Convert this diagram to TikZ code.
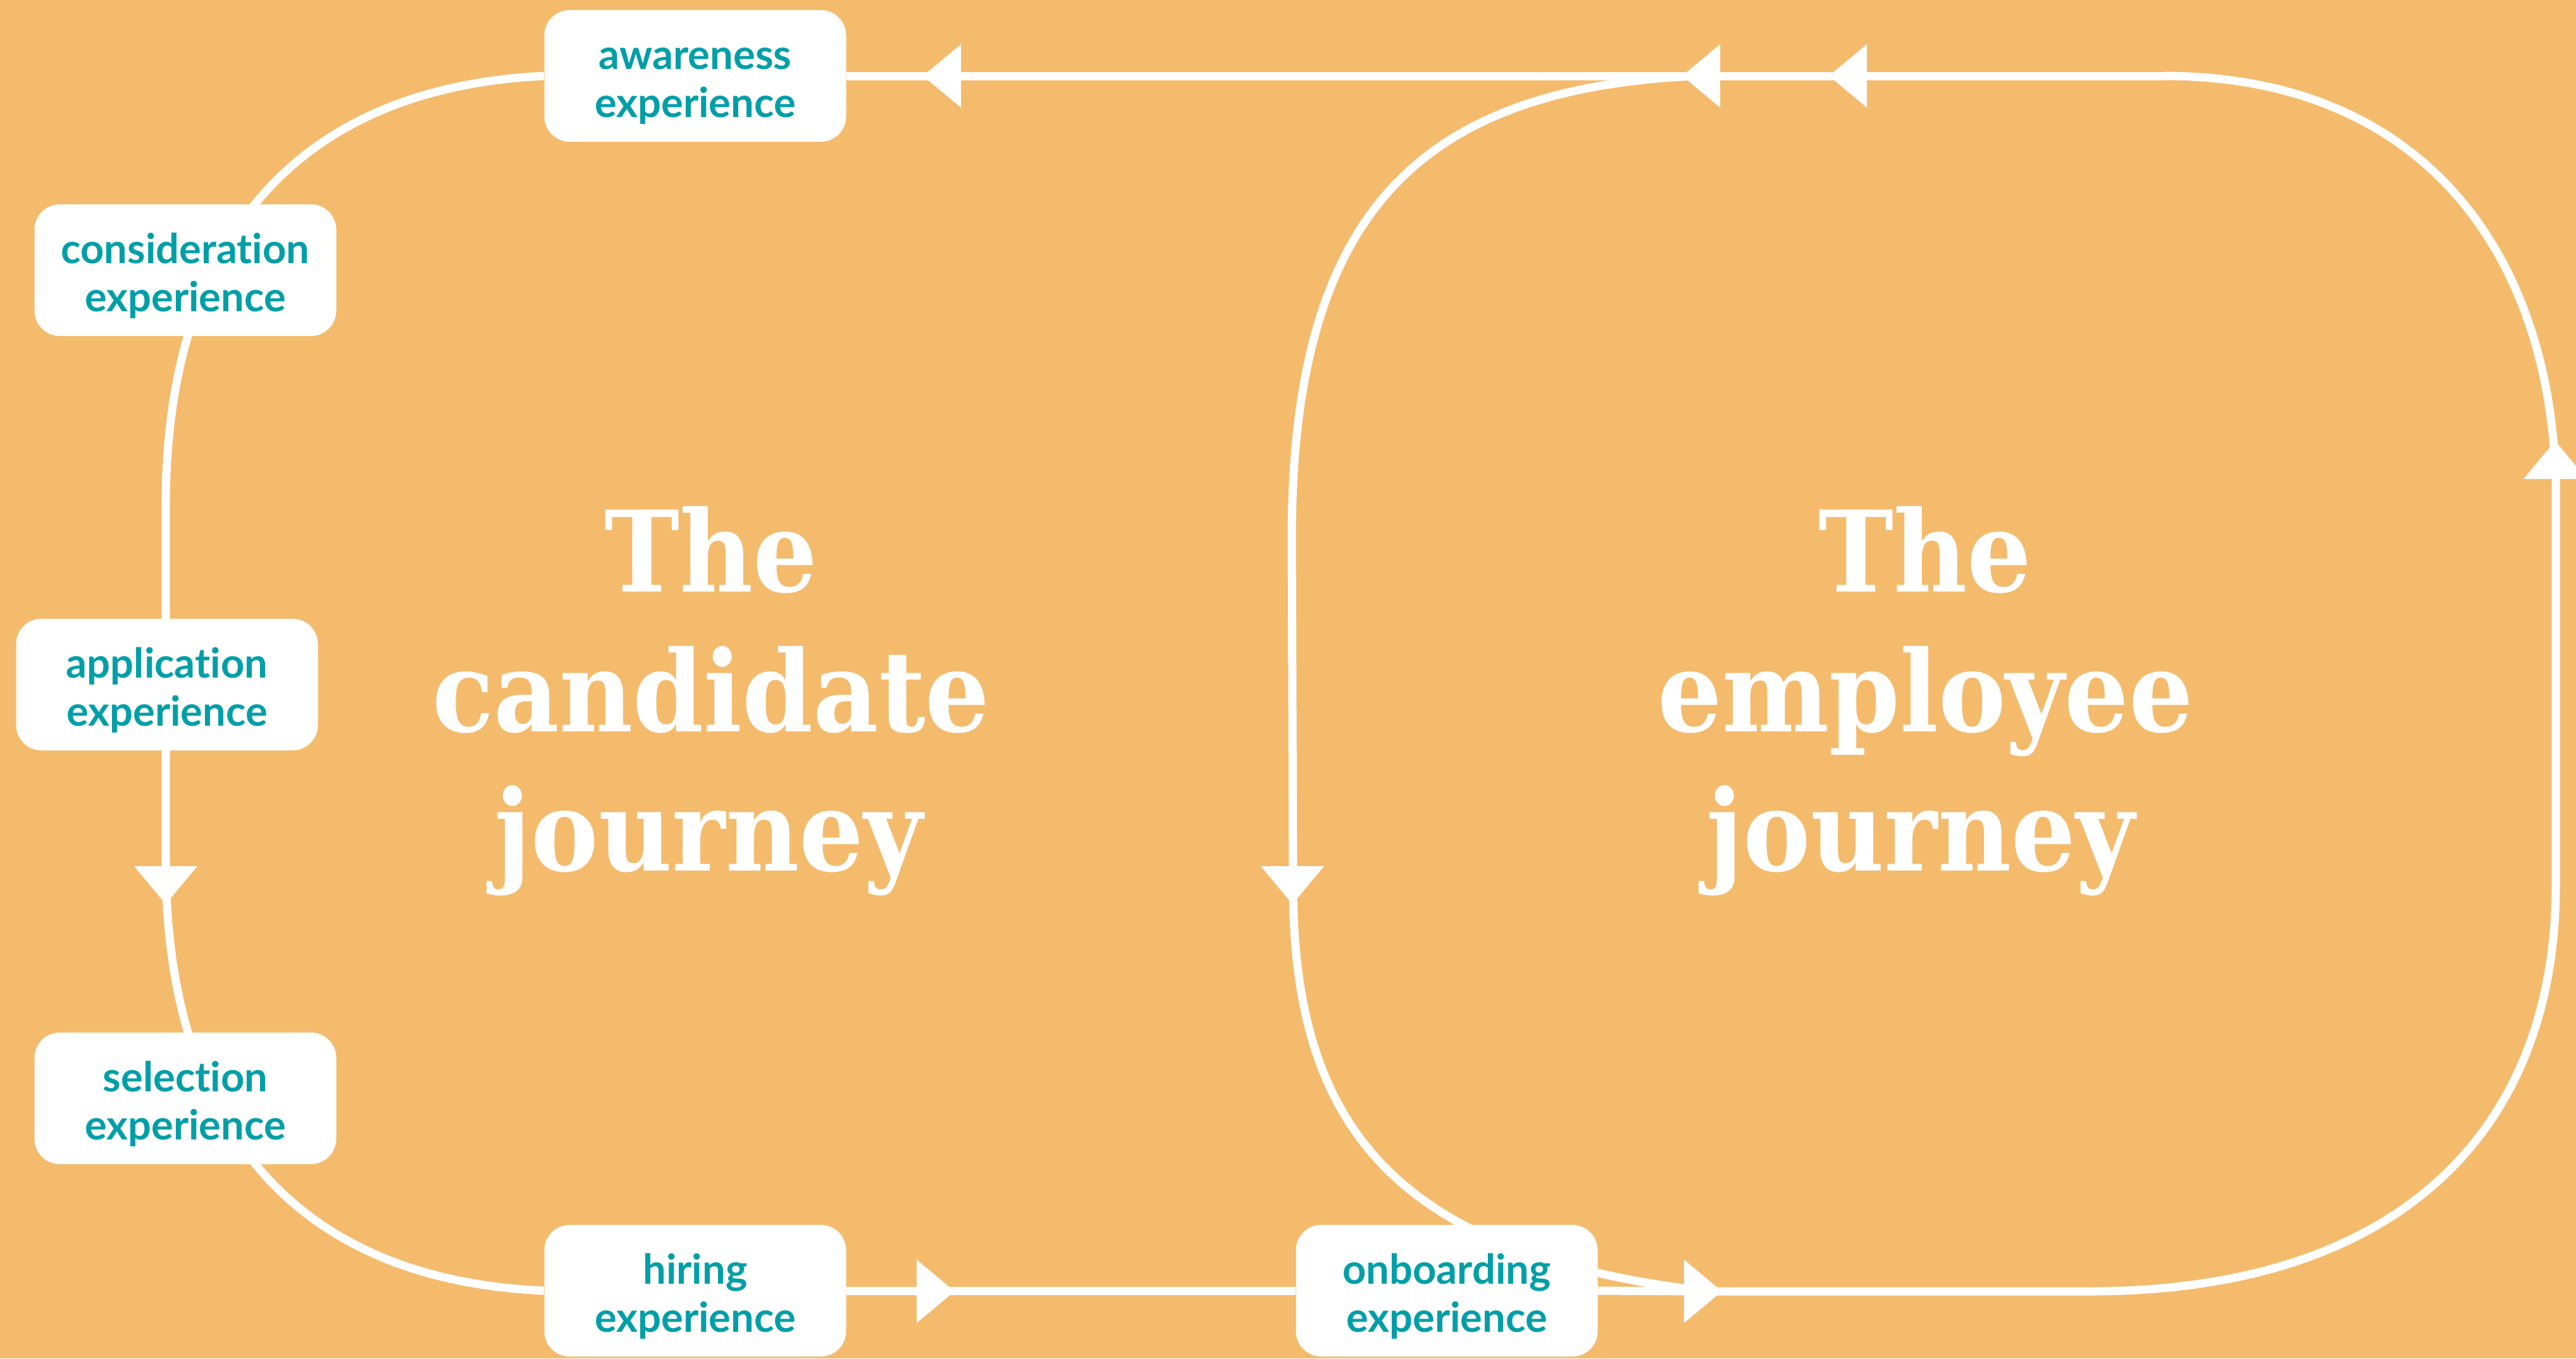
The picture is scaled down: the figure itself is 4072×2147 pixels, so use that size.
\documentclass[tikz,border=0pt]{standalone}
\usepackage{fontspec}
\setmainfont{Lato}
\newfontfamily\stagefam{Lato}[Ligatures=NoCommon]
\newfontfamily\titlefam{DejaVu Serif}[FakeStretch=0.90]
\definecolor{bgorange}{HTML}{F4BB6D}
\definecolor{tealtext}{HTML}{009FA8}
\pgfdeclarelayer{bglayer}
\pgfdeclarelayer{linelayer}
\pgfsetlayers{bglayer,linelayer,main}
\newcommand\stagetext[2]{\rule{0pt}{20.4pt}#1\\#2\rule[-5pt]{0pt}{5pt}}
\tikzset{
  stage/.style={fill=white, rounded corners=4mm, minimum width=47.7mm, minimum height=20.8mm,
    inner sep=0pt, align=center, text=tealtext,
    font=\stagefam\bfseries\fontsize{18.5pt}{21.6pt}\selectfont},
  flow/.style={draw=white, line width=1.3mm},
  bigtitle/.style={text=white, anchor=base, inner sep=0pt,
    font=\titlefam\bfseries\fontsize{50.6pt}{62pt}\selectfont},
  pics/ahead/.style={code={\fill[white] (6mm,0) -- (0,5mm) -- (0,-5mm) -- cycle;}}
}
\begin{document}
\begin{tikzpicture}[x=0.1mm, y=-0.1mm]
\useasboundingbox (0,0) rectangle (4072,2147);
\begin{pgfonlayer}{bglayer}
\fill[bgorange] (0,0) rectangle (4072,2147);
\end{pgfonlayer}

% stages
\node[stage] (aw) at (1099,120) {\stagetext{awareness}{experience}};
\node[stage] (co) at (293,427) {\stagetext{consideration}{experience}};
\node[stage] (ap) at (264,1082) {\stagetext{application}{experience}};
\node[stage] (se) at (293,1736) {\stagetext{selection}{experience}};
\node[stage] (hi) at (1099,2040) {\stagetext{hiring}{experience}};
\node[stage] (on) at (2287,2040) {\stagetext{onboarding}{experience}};

% titles
\node[bigtitle] (ct1) at (1124,935) {The};
\node[bigtitle] (ct2) at (1124,1156) {candidate};
\node[bigtitle] (ct3) at (1120,1376) {journey};
\node[bigtitle] (et1) at (3043,935) {The};
\node[bigtitle] (et2) at (3044,1156) {employee};
\node[bigtitle] (et3) at (3036,1376) {journey};

\coordinate (tj) at (2680,120);
\coordinate (tr) at (3420,120);
\coordinate (bj) at (2700,2041);
\coordinate (br) at (3300,2041);

\begin{pgfonlayer}{linelayer}
% candidate loop
\draw[flow] (aw.west) .. controls (450,140) and (262,400) .. (262,800)
  -- (262,1362) .. controls (262,1762) and (450,2022) .. (hi.west);
\draw[flow] (hi.east) -- (on.west);
\draw[flow] (on.east) -- (bj);
% top line back to awareness
\draw[flow] (tr) -- (tj) -- (aw.east);
% employee loop
\draw[flow] (bj) -- (br) .. controls (3800,2042) and (4040,1780) .. (4040,1400)
  -- (4040,760) .. controls (4030,400) and (3830,120) .. (tr);
\draw[flow] (tj) .. controls (2250,140) and (2042,330) .. (2042,850)
  -- (2044,1400) .. controls (2044,1785) and (2210,1985) .. (bj);
% arrowheads
\pic at (1449,2041) {ahead};
\pic at (2662,2041) {ahead};
\pic[rotate=180] at (1519,120) {ahead};
\pic[rotate=180] at (2719,120) {ahead};
\pic[rotate=180] at (2951,120) {ahead};
\pic[rotate=-90] at (262,1369) {ahead};
\pic[rotate=-90] at (2043,1369) {ahead};
\pic[rotate=90] at (4039,757) {ahead};
\end{pgfonlayer}
\end{tikzpicture}
\end{document}
